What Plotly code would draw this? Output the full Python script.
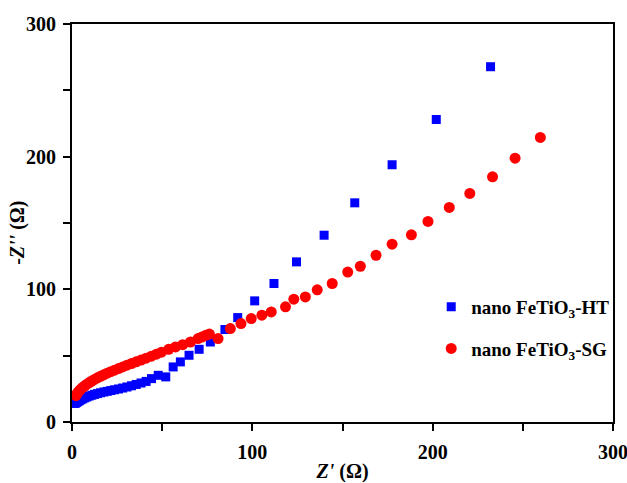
import plotly.graph_objects as go

# Nyquist data: Z' (real part) and -Z'' (imaginary part), in ohm
ht_zre = [1.5, 2.0, 2.6, 3.3, 4.1, 5.0, 6.0, 7.1, 8.3, 9.6, 11.0, 12.5, 14.1, 15.8,
          17.6, 19.5, 21.5, 23.6, 25.8, 28.1, 30.5, 33.0, 35.6, 38.3, 41.1, 44.1,
          47.8, 52.0, 56.1, 60.1, 64.9, 70.5, 76.7, 84.8, 91.9, 101.3, 112.0,
          124.5, 139.8, 156.8, 177.5, 202.0, 232.1]
ht_zim = [14.0, 14.3, 14.8, 15.4, 16.1, 16.8, 17.5, 18.2, 18.9, 19.6, 20.2, 20.8,
          21.4, 22.0, 22.6, 23.1, 23.7, 24.3, 24.9, 25.6, 26.4, 27.3, 28.3, 29.4,
          30.6, 32.7, 35.2, 34.0, 41.5, 45.3, 50.3, 54.8, 60.3, 69.7, 78.7, 91.3,
          104.4, 120.7, 140.8, 165.2, 193.9, 228.0, 267.8]

sg_zre = [2.2, 2.7, 3.3, 4.1, 5.0, 6.0, 7.1, 8.3, 9.6, 11.0, 12.5, 14.1, 15.8,
          17.6, 19.5, 21.5, 23.6, 25.8, 28.1, 30.5, 33.0, 35.6, 38.3, 41.1, 44.0,
          46.8, 49.6, 53.6, 57.4, 61.4, 65.7, 69.9, 72.0, 74.2, 76.2, 81.0, 87.8,
          93.7, 99.4, 105.3, 110.5, 118.4, 123.0, 129.4, 136.0, 144.3, 152.9,
          159.9, 168.6, 177.5, 188.2, 197.4, 209.2, 220.6, 233.2, 245.7, 259.7]
sg_zim = [19.8, 21.2, 22.4, 23.6, 24.9, 26.1, 27.3, 28.5, 29.7, 30.9, 32.1, 33.3,
          34.4, 35.6, 36.8, 37.9, 39.1, 40.3, 41.5, 42.8, 44.1, 45.4, 46.7, 48.1,
          49.6, 51.1, 52.6, 54.8, 56.6, 58.3, 60.3, 62.9, 64.0, 65.3, 66.3, 62.9,
          70.4, 74.2, 78.0, 80.5, 83.0, 86.8, 92.6, 94.3, 99.6, 104.4, 113.0,
          117.4, 125.7, 134.0, 141.1, 151.2, 161.7, 172.3, 184.8, 198.9, 214.5]

tick_vals = [0, 100, 200, 300]
tick_text = ["<b>0</b>", "<b>100</b>", "<b>200</b>", "<b>300</b>"]

FONT = "Liberation Serif"

fig = go.Figure()
fig.add_trace(go.Scatter(
    x=ht_zre, y=ht_zim, mode="markers", name="<b>nano FeTiO<sub>3</sub>-HT</b>",
    legendgroup="ht",
    marker=dict(symbol="square", size=9, color="#0000ff", line=dict(width=0)),
))
fig.add_trace(go.Scatter(
    x=sg_zre, y=sg_zim, mode="markers", name="<b>nano FeTiO<sub>3</sub>-SG</b>",
    legendgroup="sg",
    marker=dict(symbol="circle", size=11, color="#ff0000", line=dict(width=0)),
))

axis_common = dict(
    range=[0, 300], tickmode="array", tickvals=tick_vals, ticktext=tick_text,
    ticks="outside", ticklen=7, tickwidth=2, tickcolor="black",
    minor=dict(ticks="outside", dtick=50, ticklen=7, tickwidth=2,
               tickcolor="black", showgrid=False),
    showline=True, linewidth=2, linecolor="black", mirror=True,
    showgrid=False, zeroline=False, automargin=False,
    ticklabeloverflow="allow",
    tickfont=dict(family=FONT, size=20, color="black"),
)

fig.update_layout(
    width=627, height=483,
    margin=dict(l=72, r=14, t=24, b=61),
    paper_bgcolor="white", plot_bgcolor="white",
    font=dict(family=FONT, color="black"),
    xaxis=dict(**axis_common, ticklabelstandoff=4,
               title=dict(text="<b><i>Z'</i> (Ω)</b>", standoff=12,
                          font=dict(family=FONT, size=20, color="black"))),
    yaxis=dict(**axis_common, ticklabelstandoff=3),
    legend=dict(
        x=0.664, y=0.337, xanchor="left", yanchor="top",
        bgcolor="rgba(0,0,0,0)", borderwidth=0,
        traceorder="grouped", tracegroupgap=14,
        font=dict(family=FONT, size=19, color="black"),
    ),
    showlegend=True,
)

# vertical axis title, set slightly below the middle of the plot
fig.add_annotation(
    text="<b>-<i>Z''</i> (Ω)</b>", textangle=-90,
    xref="paper", yref="paper", x=-0.1, y=0.475,
    xanchor="center", yanchor="middle", showarrow=False,
    font=dict(family=FONT, size=20, color="black"),
)

fig.write_html("out.html")
